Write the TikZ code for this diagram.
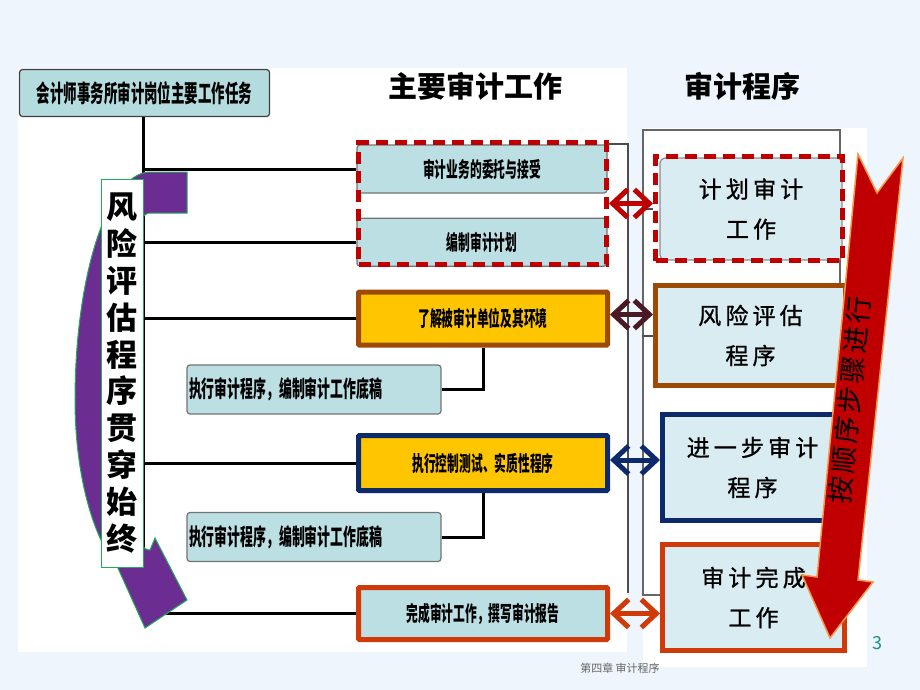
\documentclass[tikz,border=0pt]{standalone}
\usepackage{fontspec}
\setmainfont{Noto Sans CJK SC}
\newfontfamily\narrowcjk[FakeStretch=0.56]{Noto Sans CJK SC}
\newfontfamily\widecjk[LetterSpace=18, FakeBold=1]{Noto Sans CJK SC}
\newfontfamily\seqfont[LetterSpace=12]{Noto Sans CJK SC}
\usetikzlibrary{positioning, arrows.meta}

\definecolor{slidebg}{HTML}{EEF5FC}
\definecolor{boxblue}{HTML}{BCDFE4}
\definecolor{taskblue}{HTML}{B4DCDF}
\definecolor{paleblue}{HTML}{D9ECF2}
\definecolor{gold}{HTML}{FFC600}
\definecolor{darkred}{HTML}{C00000}
\definecolor{rust}{HTML}{9C4A06}
\definecolor{deepnavy}{HTML}{0D2B6B}
\definecolor{flame}{HTML}{D03A08}
\definecolor{plum}{HTML}{4A1A24}
\definecolor{grape}{HTML}{6B2D92}
\definecolor{leaf}{HTML}{1FAE55}
\definecolor{pageteal}{HTML}{1C8C8C}
\definecolor{amber}{HTML}{F79646}

\begin{document}
\begin{tikzpicture}[
    x=1pt, y=-1pt,
    lbox/.style={rectangle, draw=black!55, line width=1.2pt, rounded corners=3pt, fill=boxblue,
        minimum width=250pt, minimum height=48pt, inner sep=0pt,
        font=\narrowcjk\bfseries\fontsize{21pt}{21pt}\selectfont},
    keybox/.style={lbox, fill=gold, line width=5pt, rounded corners=1pt, minimum width=249pt, minimum height=53pt},
    ebox/.style={lbox, text width=250pt, align=left, inner xsep=2pt, minimum height=49pt,
        font=\narrowcjk\bfseries\fontsize{23pt}{23pt}\selectfont},
    grp/.style={rectangle, draw=darkred, line width=5pt, dash pattern=on 12pt off 7pt},
    rbox/.style={rectangle, fill=paleblue, line width=5pt, align=center,
        font=\widecjk\fontsize{23pt}{40pt}\selectfont},
    head/.style={font=\bfseries\fontsize{29pt}{29pt}\selectfont},
    link/.style={line width=3pt, black},
    stub/.style={line width=2pt, black!70},
    dbl/.style={line width=5pt, arrows={Straight Barb[length=15pt,width=28pt]-Straight Barb[length=15pt,width=28pt]}},
]
    % slide background and white panels
    \fill[slidebg] (0,0) rectangle (920,690);
    \fill[white] (18,68) rectangle (627,652);
    \fill[white] (643,128) rectangle (867,667);

    % headings
    \node[lbox, fill=taskblue, draw=black!75, minimum width=250pt, minimum height=47pt,
        font=\narrowcjk\bfseries\fontsize{24pt}{24pt}\selectfont] (task) at (144.5,93) {会计师事务所审计岗位主要工作任务};
    \node[head] (hwork) at (475,86) {主要审计工作};
    \node[head] (hproc) at (742,86) {审计程序};

    % main audit work
    \node[lbox] (entrust) at (482,169) {审计业务的委托与接受};
    \node[lbox, below=24pt of entrust] (compile) {编制审计计划};
    \node[grp, minimum width=248pt, minimum height=122pt] (grpplan) at (482.5,203.5) {};
    \node[keybox, draw=rust] (understand) at (483,318.5) {了解被审计单位及其环境};
    \node[ebox] (exec1) at (314,389.5) {执行审计程序，编制审计工作底稿};
    \node[keybox, draw=deepnavy, minimum height=55pt] (control) at (483,463) {执行控制测试、实质性程序};
    \node[ebox] (exec2) at (314,537) {执行审计程序，编制审计工作底稿};
    \node[lbox, draw=flame, line width=5pt, rounded corners=1pt, minimum width=249pt, minimum height=52pt] (finish) at (483,613.5) {完成审计工作，撰写审计报告};

    % tree lines
    \coordinate (trunk) at (143,117);
    \draw[link] (trunk) |- (finish.west);
    \draw[link] (trunk |- entrust.west) -- (entrust.west);
    \draw[link] (trunk |- compile.west) -- (compile.west);
    \draw[link] (trunk |- understand.west) -- (understand.west);
    \draw[link] (trunk |- control.west) -- (control.west);
    \draw[link] (understand.south) |- (exec1.east);
    \draw[link] (control.south) |- (exec2.east);
    \draw[stub] (entrust.north east) -- ++(20,0) coordinate (brk) -- (brk |- 0,593);

    % risk assessment runs through
    \fill[grape, draw=leaf, line width=1pt] (187,172)
        -- plot[domain=270:180, samples=30] ({150+75*cos(\x)},{400+228*sin(\x)})
        -- plot[domain=180:116, samples=30] ({150+75*cos(\x)},{400+185*sin(\x)})
        -- (145,628) -- (187,600) -- (155,538)
        -- plot[domain=90:180, samples=30] ({150+35*cos(\x)},{400+150*sin(\x)})
        -- plot[domain=180:270, samples=30] ({150+35*cos(\x)},{400+187*sin(\x)})
        -- (187,213) -- cycle;
    \node[draw=leaf, line width=0.8pt, fill=white, minimum width=42pt, minimum height=388pt, inner sep=0pt,
        align=center, font=\bfseries\fontsize{31pt}{36.9pt}\selectfont] (through) at (122,373)
        {风\\险\\评\\估\\程\\序\\贯\\穿\\始\\终};

    % audit procedures
    \node[draw=black!60, line width=2pt, minimum width=197pt, minimum height=465pt] (frame) at (741.5,362.5) {};
    \node[rbox, draw=black!45, line width=1.2pt, rounded corners=5pt, minimum width=182pt, minimum height=102pt] (planin) at (751,209) {计划审计\\工作};
    \node[grp, minimum width=187pt, minimum height=104pt] (plan) at (749,208.5) {};
    \node[rbox, draw=rust, minimum width=190pt, minimum height=100pt] (risk) at (750.5,335.5) {风险评估\\程序};
    \node[rbox, draw=deepnavy, minimum width=180pt, minimum height=106pt] (further) at (752.5,467.5) {进一步审计\\程序};
    \node[rbox, draw=flame, minimum width=182pt, minimum height=106pt] (complete) at (753.5,597.5) {审计完成\\工作};
    \draw[stub] (frame.west |- plan.west) -- (plan.west);
    \draw[stub] (frame.west |- risk.west) -- (risk.west);

    % links between the two columns
    \draw[dbl, darkred] (grpplan.east) -- (grpplan.east -| plan.west);
    \draw[dbl, plum] ([yshift=4pt]understand.east) -- ([yshift=4pt]understand.east -| risk.west);
    \draw[dbl, deepnavy] ([yshift=3pt]control.east) -- ([yshift=3pt]control.east -| further.west);
    \draw[dbl, flame] (finish.east) -- (finish.east -| complete.west);

    % in sequence
    \fill[darkred, draw=amber, line width=1.5pt] (858,154) -- (877,193) -- (903,158) -- (858,580)
        -- (873,582) -- (830,638) -- (802,575) -- (817,577) -- cycle;
    \node[rotate=84.3, font=\seqfont\fontsize{27pt}{27pt}\selectfont] (seq) at (850,400) {按顺序步骤进行};

    % footer
    \node[text=black!60, font=\fontsize{11pt}{11pt}\selectfont] (foot) at (620,668) {第四章 审计程序};
    \node[text=pageteal, font=\fontsize{18pt}{18pt}\selectfont] (pgnum) at (877,643) {3};
\end{tikzpicture}
\end{document}
